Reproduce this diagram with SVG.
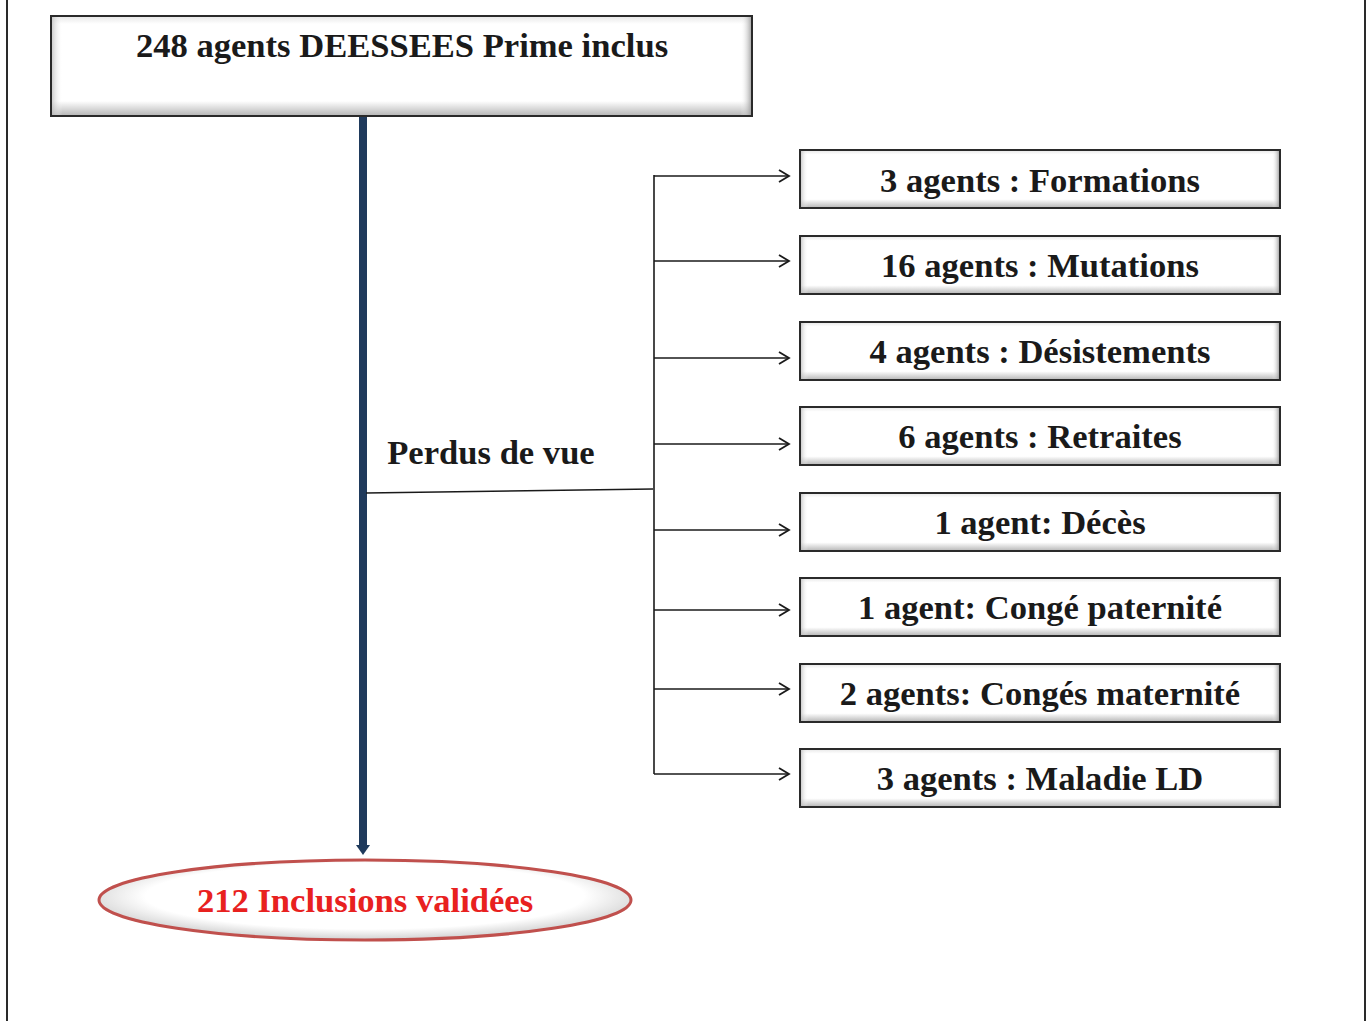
<svg xmlns="http://www.w3.org/2000/svg" width="1372" height="1021" viewBox="0 0 1372 1021">
<style>
.t{font-family:"Liberation Serif","Times New Roman",serif;font-weight:bold;font-size:34.6px;fill:#1a1a1a;text-anchor:middle}
.red{fill:#e8211f}
.box{fill:url(#bev);stroke:#2a2a2a;stroke-width:2}
.side{fill:url(#bevh)}
.conn{fill:none;stroke:#1a1a1a;stroke-width:1.6}
</style>
<defs>
<linearGradient id="bev" x1="0" y1="0" x2="0" y2="1">
<stop offset="0" stop-color="#e6e6e6"/>
<stop offset="0.08" stop-color="#ffffff"/>
<stop offset="0.85" stop-color="#ffffff"/>
<stop offset="1" stop-color="#b5b5b5"/>
</linearGradient>
<linearGradient id="bevh" x1="0" y1="0" x2="1" y2="0">
<stop offset="0" stop-color="#bbbbbb" stop-opacity="0.7"/>
<stop offset="0.015" stop-color="#ffffff" stop-opacity="0"/>
<stop offset="0.985" stop-color="#ffffff" stop-opacity="0"/>
<stop offset="1" stop-color="#999999" stop-opacity="0.8"/>
</linearGradient>
<radialGradient id="ell" cx="0.5" cy="0.45" r="0.55">
<stop offset="0.75" stop-color="#ffffff"/>
<stop offset="1" stop-color="#d0d0d0"/>
</radialGradient>
<marker id="ah" markerWidth="14" markerHeight="14" refX="12" refY="7" orient="auto" markerUnits="userSpaceOnUse">
<path d="M2,1 L12,7 L2,13" fill="none" stroke="#1a1a1a" stroke-width="1.8"/>
</marker>
</defs>
<rect x="0" y="0" width="1372" height="1021" fill="#ffffff"/>
<line x1="7" y1="0" x2="7" y2="1021" stroke="#2a2a2a" stroke-width="2"/>
<line x1="1365" y1="0" x2="1365" y2="1021" stroke="#2a2a2a" stroke-width="2"/>

<g id="connectors">
<line x1="363" y1="116" x2="363" y2="846" stroke="#1f3a5c" stroke-width="8"/>
<path d="M356,845 L370,845 L363,855 Z" fill="#1f3a5c"/>
<path class="conn" d="M366,493 L653,489"/>
<path class="conn" d="M654,175 L654,774"/>
<path class="conn" d="M654,176 L789,176" marker-end="url(#ah)"/>
<path class="conn" d="M654,261 L789,261" marker-end="url(#ah)"/>
<path class="conn" d="M654,358 L789,358" marker-end="url(#ah)"/>
<path class="conn" d="M654,444 L789,444" marker-end="url(#ah)"/>
<path class="conn" d="M654,530 L789,530" marker-end="url(#ah)"/>
<path class="conn" d="M654,610 L789,610" marker-end="url(#ah)"/>
<path class="conn" d="M654,689 L789,689" marker-end="url(#ah)"/>
<path class="conn" d="M654,774 L789,774" marker-end="url(#ah)"/>
</g>

<g id="top">
<rect class="box" x="51" y="16" width="701" height="100"/>
<rect class="side" x="52" y="17" width="699" height="98"/>
<text class="t" x="402" y="57">248 agents DEESSEES Prime inclus</text>
</g>

<g id="perdus">
<text class="t" x="491" y="464">Perdus de vue</text>
</g>

<g id="n1"><rect class="box" x="800" y="150" width="480" height="58"/><rect class="side" x="801" y="151" width="478" height="56"/><text class="t" x="1040" y="192">3 agents : Formations</text></g>
<g id="n2"><rect class="box" x="800" y="236" width="480" height="58"/><rect class="side" x="801" y="237" width="478" height="56"/><text class="t" x="1040" y="277">16 agents : Mutations</text></g>
<g id="n3"><rect class="box" x="800" y="322" width="480" height="58"/><rect class="side" x="801" y="323" width="478" height="56"/><text class="t" x="1040" y="363">4 agents : Désistements</text></g>
<g id="n4"><rect class="box" x="800" y="407" width="480" height="58"/><rect class="side" x="801" y="408" width="478" height="56"/><text class="t" x="1040" y="448">6 agents : Retraites</text></g>
<g id="n5"><rect class="box" x="800" y="493" width="480" height="58"/><rect class="side" x="801" y="494" width="478" height="56"/><text class="t" x="1040" y="534">1 agent: Décès</text></g>
<g id="n6"><rect class="box" x="800" y="578" width="480" height="58"/><rect class="side" x="801" y="579" width="478" height="56"/><text class="t" x="1040" y="619">1 agent: Congé paternité</text></g>
<g id="n7"><rect class="box" x="800" y="664" width="480" height="58"/><rect class="side" x="801" y="665" width="478" height="56"/><text class="t" x="1040" y="705">2 agents: Congés maternité</text></g>
<g id="n8"><rect class="box" x="800" y="749" width="480" height="58"/><rect class="side" x="801" y="750" width="478" height="56"/><text class="t" x="1040" y="790">3 agents : Maladie LD</text></g>

<g id="result">
<ellipse cx="365" cy="900" rx="266" ry="40" fill="url(#ell)" stroke="#c0504d" stroke-width="3"/>
<text class="t red" x="365" y="912">212 Inclusions validées</text>
</g>
</svg>
